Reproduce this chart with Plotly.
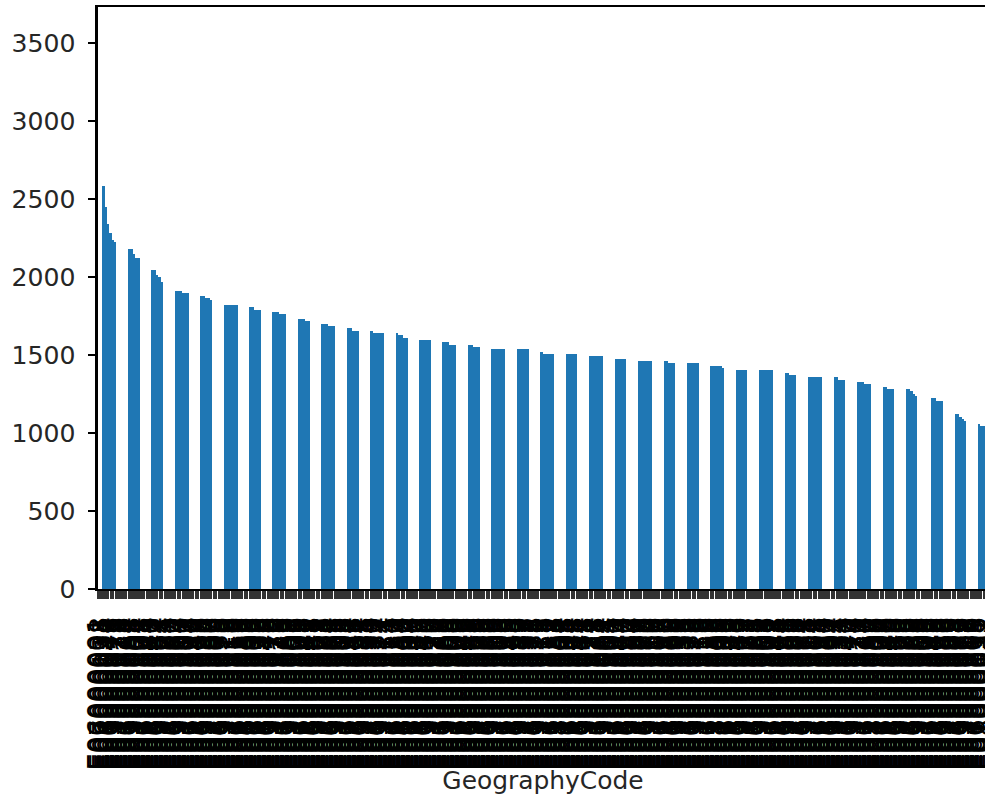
import plotly.graph_objects as go

# ---- data (sorted descending) ----
values = [
    3550, 2720,
    2575, 2441, 2340, 2276, 2237, 2228, 2220, 2212, 2203, 2193,
    2184, 2176, 2147, 2126, 2118, 2111, 2095, 2080, 2065,
    2051, 2040, 2019, 1995, 1975, 1958, 1945, 1933, 1925, 1916,
    1908, 1906, 1900, 1893, 1891, 1888, 1885, 1882, 1879,
    1876, 1874, 1872, 1862, 1858, 1855, 1848, 1840, 1833, 1827,
    1822, 1822, 1821, 1820, 1819, 1817, 1815, 1813, 1812,
    1810, 1809, 1798, 1792, 1789, 1788, 1786, 1783, 1780, 1778,
    1776, 1774, 1762, 1757, 1755, 1751, 1746, 1742, 1738,
    1735, 1734, 1726, 1720, 1719, 1718, 1715, 1712, 1709, 1706,
    1703, 1702, 1690, 1686, 1684, 1680, 1677, 1673, 1670,
    1667, 1666, 1658, 1654, 1653, 1652, 1651, 1651, 1650, 1650,
    1649, 1649, 1648, 1648, 1647, 1645, 1642, 1640, 1637,
    1635, 1634, 1620, 1617, 1606, 1603, 1602, 1601, 1601,
    1600, 1600, 1599, 1599, 1598, 1598, 1593, 1590, 1587, 1584,
    1581, 1580, 1570, 1567, 1565, 1564, 1564, 1563, 1563,
    1562, 1561, 1550, 1547, 1546, 1545, 1544, 1544, 1543, 1543,
    1542, 1542, 1541, 1541, 1540, 1538, 1536, 1535, 1533,
    1532, 1532, 1531, 1531, 1530, 1530, 1526, 1522, 1518, 1515,
    1513, 1513, 1512, 1512, 1512, 1512, 1511, 1511, 1511,
    1510, 1510, 1510, 1509, 1509, 1509, 1506, 1503, 1500, 1498,
    1496, 1496, 1495, 1495, 1494, 1490, 1487, 1484, 1481,
    1479, 1479, 1478, 1478, 1477, 1477, 1473, 1470, 1467, 1464,
    1462, 1462, 1461, 1461, 1461, 1461, 1461, 1460, 1460,
    1459, 1459, 1446, 1445, 1444, 1444, 1443, 1443, 1442,
    1442, 1442, 1442, 1441, 1441, 1441, 1437, 1434, 1431, 1429,
    1427, 1427, 1426, 1426, 1425, 1425, 1420, 1416, 1412,
    1410, 1410, 1410, 1409, 1409, 1409, 1409, 1408, 1408, 1408,
    1407, 1407, 1407, 1406, 1406, 1403, 1400, 1398, 1395,
    1393, 1393, 1380, 1379, 1378, 1378, 1373, 1368, 1363, 1359,
    1357, 1357, 1357, 1356, 1356, 1356, 1356, 1355, 1355,
    1355, 1354, 1341, 1340, 1340, 1339, 1336, 1333, 1330, 1327,
    1325, 1324, 1310, 1309, 1308, 1308, 1307, 1307, 1306,
    1305, 1304, 1291, 1290, 1289, 1289, 1287, 1284, 1282, 1280,
    1278, 1270, 1256, 1245, 1232, 1228, 1226, 1225, 1223,
    1222, 1221, 1205, 1204, 1203, 1202, 1180, 1155, 1135,
    1122, 1118, 1100, 1095, 1079, 1076, 1070, 1064, 1058, 1054,
    1051, 1045, 1026, 1020, 1012,
]

# GeographyCode categories (local authority style codes; unreadable in the reference)
code_prefixes = ["E06", "E07", "E08", "E09"]
code_counts = [60, 218, 36, 34]
all_codes = []
for p, c in zip(code_prefixes, code_counts):
    for k in range(1, c + 1):
        all_codes.append(f"{p}000{k:03d}")
n_codes = len(all_codes)
codes = [all_codes[(j * 97) % n_codes] for j in range(n_codes)]
n = min(len(codes), len(values))
codes = codes[:n]
values = values[:n]

y_ticks = [0, 500, 1000, 1500, 2000, 2500, 3000, 3500]

# ---- figure drawn at the original (small) resolution, then scaled up ----
W, H = 423, 343
SCALE = 985 / W
FONT = "DejaVu Sans"
TXT = "#262626"

fig = go.Figure(
    go.Bar(
        x=codes,
        y=values,
        width=0.52,
        marker=dict(color="rgba(31,119,180,0.999)", line=dict(width=0)),
        hoverinfo="x+y",
    )
)

span = 381 / 1.10579
x0 = -0.0325

fig.update_layout(
    width=W,
    height=H,
    autosize=False,
    margin=dict(l=42, r=0, t=3, b=90, pad=0, autoexpand=False),
    paper_bgcolor="white",
    plot_bgcolor="white",
    bargap=0,
    bargroupgap=0,
    showlegend=False,
    font=dict(family=FONT, size=10.7, color=TXT),
    xaxis=dict(
        type="category",
        range=[x0, x0 + span],
        automargin=False,
        tickmode="linear",
        tick0=0,
        dtick=1,
        tickangle=-90,
        ticks="outside",
        ticklen=3.5,
        tickwidth=0.8,
        tickcolor="#333333",
        ticklabelstandoff=3,
        tickfont=dict(family=FONT, size=11.5, color="black"),
        showline=True,
        linecolor="black",
        linewidth=0.8,
        mirror=True,
        showgrid=False,
        zeroline=False,
    ),
    yaxis=dict(
        range=[0, 3731],
        automargin=False,
        tickmode="array",
        tickvals=y_ticks,
        ticktext=[str(v) for v in y_ticks],
        ticks="outside",
        ticklen=3.5,
        tickwidth=0.8,
        tickcolor="black",
        ticklabelstandoff=3,
        tickfont=dict(family=FONT, size=10.8, color=TXT),
        showline=True,
        linecolor="black",
        linewidth=0.8,
        mirror=False,
        showgrid=False,
        zeroline=False,
    ),
    annotations=[
        dict(
            text="GeographyCode",
            xref="paper",
            yref="paper",
            x=0.5,
            y=-0.33,
            xanchor="center",
            yanchor="middle",
            showarrow=False,
            font=dict(family=FONT, size=10.7, color=TXT),
        )
    ],
)

post = (
    "var gd = document.getElementById('{plot_id}');"
    "document.documentElement.style.margin='0';"
    "document.body.style.margin='0';"
    "document.body.style.overflow='hidden';"
    "gd.style.transformOrigin='0 0';"
    "gd.style.transform='scale(%f)';" % SCALE
)

fig.write_html("out.html", post_script=post, config={"displayModeBar": False})
